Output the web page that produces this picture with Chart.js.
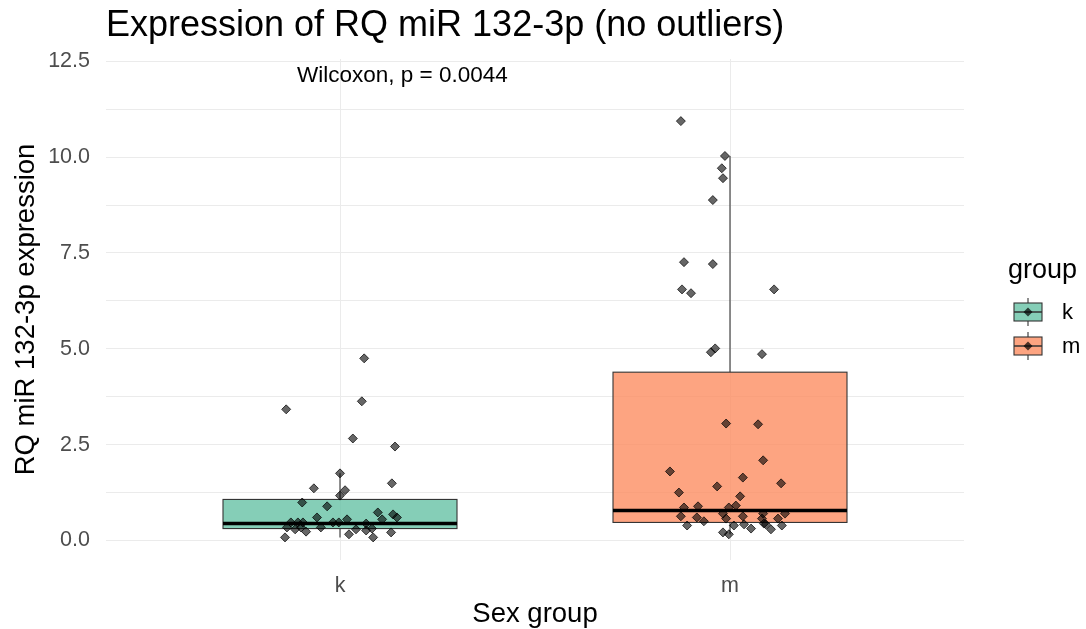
<!DOCTYPE html>
<html>
<head>
<meta charset="utf-8">
<script src="https://cdn.jsdelivr.net/npm/chart.js@4.4.0/dist/chart.umd.min.js"></script>
<style>
html, body { margin: 0; padding: 0; background: #fff; }
</style>
</head>
<body>
<canvas id="myChart" width="1086" height="629"></canvas>
<script>
const groups = ['k', 'm'];
const groupColors = ['rgba(102,194,165,0.8)', 'rgba(252,141,98,0.8)'];
const yTicks = [0, 1.25, 2.5, 3.75, 5, 6.25, 7.5, 8.75, 10, 11.25, 12.5];

// box stats per group
const whiskerLow = [0.08, 0.16];
const q1 = [0.31, 0.47];
const median = [0.44, 0.78];
const q3 = [1.07, 4.39];
const whiskerHigh = [1.75, 10.03];

// jittered points (x = group position + jitter)
const kX = [1.062, 1.056, 0.862, 1.033, 1.141, 1.000, 0.933, 1.013, 1.133, 1.000, 0.903, 0.967, 1.097, 0.941, 1.136, 1.146, 1.108, 0.874,
  0.892, 0.905, 0.982, 0.997, 1.018, 1.067, 0.864, 0.885, 0.900, 0.913, 0.951, 1.041, 1.067, 1.082, 1.131, 0.859, 1.023, 1.085];
const kY = [4.75, 3.63, 3.42, 2.66, 2.45, 1.75, 1.36, 1.31, 1.49, 1.17, 0.99, 0.89, 0.73, 0.60, 0.68, 0.60, 0.55, 0.47,
  0.47, 0.47, 0.47, 0.47, 0.55, 0.44, 0.34, 0.29, 0.34, 0.23, 0.34, 0.29, 0.26, 0.31, 0.21, 0.08, 0.16, 0.08];
const mX = [1.874, 1.987, 1.979, 1.982, 1.956, 1.882, 1.956, 1.877, 1.900, 2.113, 1.962, 1.951, 2.082, 1.990, 2.072, 2.085, 1.846,
  2.033, 2.131, 1.967, 1.869, 2.026, 1.882, 1.918, 1.997, 2.015, 1.874, 1.915, 1.933, 1.982, 1.990, 2.033, 2.082, 2.085, 2.123,
  2.141, 1.890, 2.010, 2.036, 2.054, 2.087, 2.092, 2.105, 2.133, 1.982, 1.997];
const mY = [10.94, 10.03, 9.71, 9.45, 8.88, 7.26, 7.21, 6.55, 6.45, 6.55, 5.01, 4.91, 4.86, 3.05, 3.03, 2.09, 1.80,
  1.64, 1.49, 1.41, 1.25, 1.15, 0.86, 0.89, 0.86, 0.91, 0.63, 0.60, 0.50, 0.70, 0.57, 0.63, 0.57, 0.70, 0.57,
  0.70, 0.39, 0.39, 0.42, 0.31, 0.44, 0.42, 0.29, 0.39, 0.21, 0.16];

const annotText = 'Wilcoxon, p = 0.0044';
const annotX = 1.16;
const annotY = 11.96;

const FONT = "'Liberation Sans', Arial, sans-serif";
Chart.defaults.font.family = FONT;
const boxHalf = 0.3;

function line(ctx, x1, y1, x2, y2) {
  ctx.beginPath();
  ctx.moveTo(x1, y1);
  ctx.lineTo(x2, y2);
  ctx.stroke();
}

const boxPlugin = {
  id: 'boxes',
  beforeDatasetsDraw(chart) {
    const ctx = chart.ctx;
    const x = chart.scales.x, y = chart.scales.y;
    groups.forEach((g, i) => {
      const xc = x.getPixelForValue(i + 1);
      const left = x.getPixelForValue(i + 1 - boxHalf);
      const right = x.getPixelForValue(i + 1 + boxHalf);
      const top = y.getPixelForValue(q3[i]);
      const bot = y.getPixelForValue(q1[i]);
      ctx.save();
      ctx.strokeStyle = '#333333';
      ctx.lineWidth = 1.1;
      line(ctx, xc, y.getPixelForValue(whiskerHigh[i]), xc, top);
      line(ctx, xc, bot, xc, y.getPixelForValue(whiskerLow[i]));
      ctx.fillStyle = groupColors[i];
      ctx.fillRect(left, top, right - left, bot - top);
      ctx.strokeRect(left, top, right - left, bot - top);
      ctx.strokeStyle = '#000';
      ctx.lineWidth = 3.5;
      const my = y.getPixelForValue(median[i]);
      line(ctx, left, my, right, my);
      ctx.restore();
    });
  },
  afterDraw(chart) {
    const ctx = chart.ctx;
    const x = chart.scales.x, y = chart.scales.y;
    ctx.save();
    ctx.fillStyle = '#000';
    ctx.font = '22.5px ' + FONT;
    ctx.textAlign = 'center';
    ctx.textBaseline = 'alphabetic';
    ctx.fillText(annotText, x.getPixelForValue(annotX), y.getPixelForValue(annotY));

    // legend
    ctx.textAlign = 'left';
    ctx.textBaseline = 'middle';
    ctx.font = '27px ' + FONT;
    ctx.fillText('group', 1008, 271);
    ctx.font = '22px ' + FONT;
    groups.forEach((g, i) => {
      const cy = 312 + i * 34;
      const cx = 1028;
      ctx.strokeStyle = '#333333';
      ctx.lineWidth = 1.1;
      line(ctx, cx, cy - 14, cx, cy + 14);
      ctx.fillStyle = '#fff';
      ctx.fillRect(cx - 14, cy - 9, 28, 18);
      ctx.fillStyle = groupColors[i];
      ctx.fillRect(cx - 14, cy - 9, 28, 18);
      ctx.strokeRect(cx - 14, cy - 9, 28, 18);
      ctx.lineWidth = 1.5;
      line(ctx, cx - 14, cy, cx + 14, cy);
      ctx.fillStyle = 'rgba(0,0,0,0.7)';
      ctx.beginPath();
      ctx.moveTo(cx, cy - 4.5);
      ctx.lineTo(cx + 4.5, cy);
      ctx.lineTo(cx, cy + 4.5);
      ctx.lineTo(cx - 4.5, cy);
      ctx.closePath();
      ctx.fill();
      ctx.fillStyle = '#000';
      ctx.fillText(g, 1062, cy + 1);
    });
    ctx.restore();
  }
};

function pts(xs, ys) {
  return xs.map((v, i) => ({ x: v, y: ys[i] }));
}

const ctx = document.getElementById('myChart').getContext('2d');
const myChart = new Chart(ctx, {
  type: 'scatter',
  data: {
    datasets: [
      { label: 'k', data: pts(kX, kY) },
      { label: 'm', data: pts(mX, mY) }
    ]
  },
  options: {
    responsive: false,
    animation: false,
    devicePixelRatio: 1,
    layout: { padding: { right: 122, left: 0, top: 0, bottom: 0 } },
    elements: {
      point: {
        pointStyle: 'rectRot',
        radius: 4.5,
        hoverRadius: 4.5,
        backgroundColor: 'rgba(0,0,0,0.6)',
        borderColor: 'rgba(0,0,0,0.7)',
        borderWidth: 1
      }
    },
    scales: {
      x: {
        type: 'linear',
        min: 0.4,
        max: 2.6,
        afterFit(s) { s.height = 69; },
        afterBuildTicks(s) { s.ticks = groups.map((g, i) => ({ value: i + 1 })); },
        ticks: {
          callback: (v) => groups[Math.round(v) - 1],
          color: '#4d4d4d',
          font: { size: 21.5 },
          padding: 13
        },
        grid: { color: '#ebebeb', drawTicks: false },
        border: { display: false },
        title: { display: true, text: 'Sex group', color: '#000', font: { size: 27.5 }, padding: { top: 0, bottom: -2 } }
      },
      y: {
        type: 'linear',
        min: -0.51,
        max: 12.56,
        afterFit(s) { s.width = 106; },
        afterBuildTicks(s) { s.ticks = yTicks.map(v => ({ value: v })); },
        ticks: {
          callback: (v) => (Math.abs(v / 2.5 - Math.round(v / 2.5)) < 1e-6 ? v.toFixed(1) : ''),
          color: '#4d4d4d',
          font: { size: 21.5 },
          padding: 16
        },
        grid: { color: '#ebebeb', drawTicks: false },
        border: { display: false },
        title: { display: true, text: 'RQ miR 132-3p expression', color: '#000', font: { size: 27.5 }, padding: { top: 9.5, bottom: 0 } }
      }
    },
    plugins: {
      legend: { display: false },
      tooltip: { enabled: false },
      title: {
        display: true,
        text: 'Expression of RQ miR 132-3p (no outliers)',
        align: 'start',
        fullSize: false,
        color: '#000',
        font: { size: 36, weight: 'normal' },
        padding: { top: 4.5, bottom: 11.3 }
      }
    }
  },
  plugins: [boxPlugin]
});
</script>
</body>
</html>
